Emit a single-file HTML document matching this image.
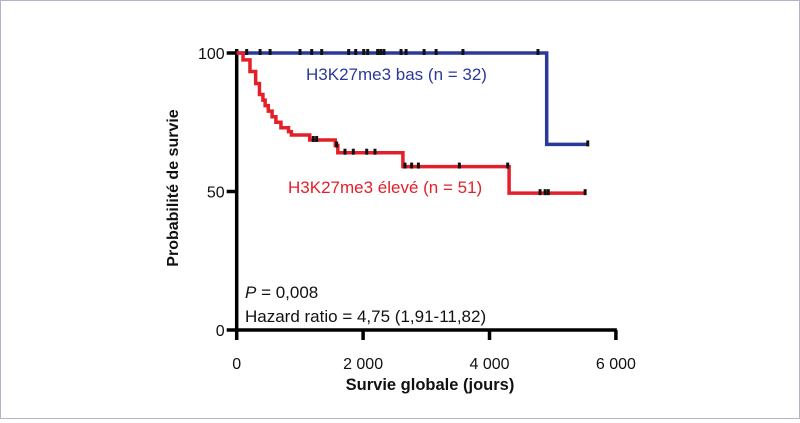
<!DOCTYPE html>
<html><head><meta charset="utf-8"><style>
html,body{margin:0;padding:0;background:#fff}
#wrap{width:800px;height:419px;position:relative;box-sizing:border-box;border:1px solid #b8b0cc}
svg text{font-family:"Liberation Sans",sans-serif}
</style></head><body>
<div id="wrap">
<svg id="chart" width="798" height="417" viewBox="1 1 798 417"></svg>
</div>
<script>
const xTicks=[0,2000,4000,6000];
const xTickLabels=["0","2 000","4 000","6 000"];
const yTicks=[0,50,100];
const yTickLabels=["0","50","100"];
const blueTimes=[0,4905,5550];
const blueSurv=[100,67,67];
const blueCensor=[158,370,528,1002,1187,1345,1772,1883,2010,2073,2230,2278,2330,2600,2680,2965,3155,3580,4767,5555];
const redTimes=[0,100,210,300,360,415,450,500,560,620,700,820,865,1155,1560,1600,2630,4310,5510];
const redSurv=[100,97.5,93.3,89,85,83,81,79,77,75,73,71.6,70.4,68.6,66.6,64,59,49.4,49.4];
const redCensor=[1212,1265,1582,1713,1845,2057,2188,2663,2768,2875,3523,4288,4800,4880,4930,5513];
const NS="http://www.w3.org/2000/svg";
const svg=document.getElementById('chart');
const X=t=>236.7+t*0.0632;
const Y=v=>330-v*2.77;
function mk(tag,attrs,parent){const e=document.createElementNS(NS,tag);for(const k in attrs)e.setAttribute(k,attrs[k]);(parent||svg).appendChild(e);return e;}
function surv(times,vals,t){let v=vals[0];for(let i=0;i<times.length;i++){if(times[i]<=t)v=vals[i];}return v;}
function stepPath(times,vals){let d=`M${X(times[0])},${Y(vals[0])}`;for(let i=1;i<times.length;i++){d+=`H${X(times[i])}V${Y(vals[i])}`;}return d;}
let ax=mk('line',{x1:X(0),y1:Y(100)-4,x2:X(0),y2:Y(0)+2,stroke:'#000','stroke-width':3.5});

let axx=mk('line',{x1:X(0)-1,y1:Y(0),x2:X(6000)+1,y2:Y(0),stroke:'#000','stroke-width':3.5});

xTicks.forEach((t,i)=>{
 const l=mk('line',{x1:X(t),y1:Y(0),x2:X(t),y2:Y(0)+10,stroke:'#000','stroke-width':3.5});
 
 const tx=mk('text',{x:X(t),y:369,'text-anchor':'middle','font-size':16,fill:'#111'});tx.textContent=xTickLabels[i];
 
});
yTicks.forEach((v,i)=>{
 const l=mk('line',{x1:X(0)-10,y1:Y(v),x2:X(0),y2:Y(v),stroke:'#000','stroke-width':3.5});
 
 const tx=mk('text',{x:X(0)-12,y:Y(v)+6,'text-anchor':'end','font-size':16,fill:'#111'});tx.textContent=yTickLabels[i];
 
});
const bp=mk('path',{d:stepPath(blueTimes,blueSurv),fill:'none',stroke:'#2b3a9a','stroke-width':3.5});

const rp=mk('path',{d:stepPath(redTimes,redSurv),fill:'none',stroke:'#e3202a','stroke-width':3.5});

blueCensor.forEach(t=>{const v=surv(blueTimes,blueSurv,t);
 const m=mk('rect',{x:X(t)-1.5,y:Y(v)-4,width:3,height:6,fill:'#111'});
 });
redCensor.forEach(t=>{const v=surv(redTimes,redSurv,t);
 const m=mk('rect',{x:X(t)-1.5,y:Y(v)-4,width:3,height:6,fill:'#111'});
 });
</script>
<svg width="800" height="419" style="position:absolute;left:0;top:0;pointer-events:none">
<text x="306" y="80" font-size="17" fill="#2b3a9a">H3K27me3 bas (n = 32)</text>
<text x="288" y="193" font-size="17" fill="#e3202a">H3K27me3 élevé (n = 51)</text>
<text x="245" y="298" font-size="17" fill="#111"><tspan font-style="italic">P</tspan> = 0,008</text>
<text x="245" y="322" font-size="17" fill="#111">Hazard ratio = 4,75 (1,91-11,82)</text>
<text x="430" y="390" font-size="16.5" font-weight="bold" text-anchor="middle" fill="#111">Survie globale (jours)</text>
<text transform="translate(178,188) rotate(-90)" font-size="16" font-weight="bold" text-anchor="middle" fill="#111">Probabilité de survie</text>
</svg>
</body></html>
